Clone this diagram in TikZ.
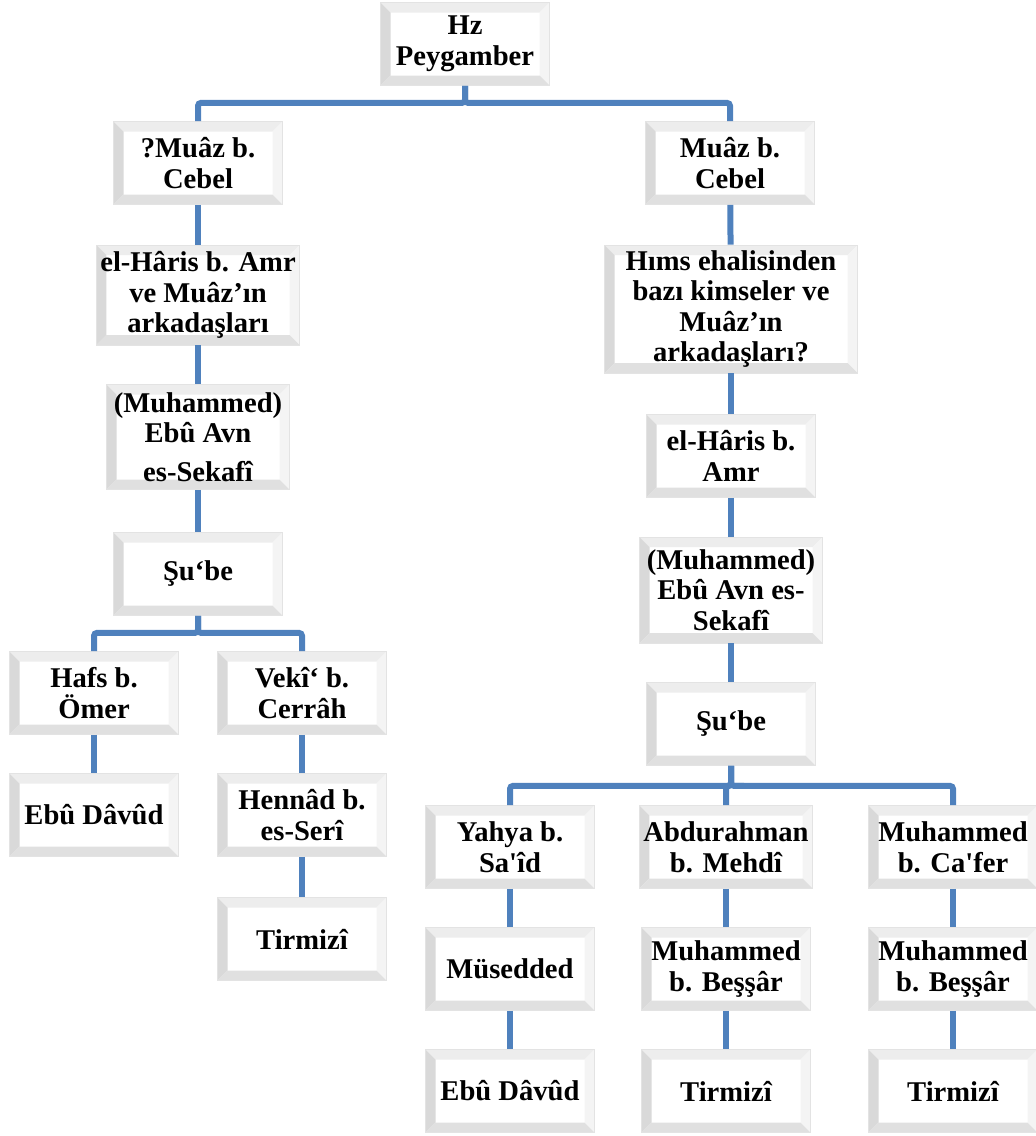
\documentclass[tikz,border=0pt]{standalone}
\usepackage{fontspec}
\setmainfont{Liberation Serif}
\usepackage{tikz}
\definecolor{hatmavi}{RGB}{79,129,189}

\tikzset{
  kutu/.style={draw=gray!22, fill=white, minimum width=84.5pt, minimum height=41.5pt,
    align=center, inner sep=2pt, font=\bfseries\fontsize{14.3}{15.3}\selectfont,
    path picture={
      \path (path picture bounding box.north west) coordinate (pa)
            (path picture bounding box.north east) coordinate (pb)
            (path picture bounding box.south east) coordinate (pc)
            (path picture bounding box.south west) coordinate (pd);
      \path ([shift={(5pt,-5pt)}]pa) coordinate (qa)
            ([shift={(-5pt,-5pt)}]pb) coordinate (qb)
            ([shift={(-5pt,5pt)}]pc) coordinate (qc)
            ([shift={(5pt,5pt)}]pd) coordinate (qd);
      \fill[gray!14] (pa) -- (pb) -- (qb) -- (qa) -- cycle;
      \fill[gray!30] (pa) -- (qa) -- (qd) -- (pd) -- cycle;
      \fill[gray!9] (pb) -- (pc) -- (qc) -- (qb) -- cycle;
      \fill[gray!24] (pd) -- (qd) -- (qc) -- (pc) -- cycle;
    }},
  kol/.style={draw=hatmavi, line width=3pt, rounded corners=1.5pt}
}

\begin{document}
\begin{tikzpicture}[x=0.5pt,y=-0.5pt]
\useasboundingbox (0,0) rectangle (1036,1136);
% ust
\node[kutu] (hz) at (465,44) {Hz\\Peygamber};
% sol kol
\node[kutu] (muazA) at (198,163) {?Muâz b.\\Cebel};
\node[kutu,minimum width=100pt,minimum height=50pt] (harisA) at (198,295) {el-Hâris b. Amr\\ve Muâz’ın\\arkadaşları};
\node[kutu,minimum width=91.5pt,minimum height=52.5pt] (avnA) at (198,437) {(Muhammed)\\Ebû Avn\\[4pt]es-Sekafî};
\node[kutu] (subeA) at (198,574) {Şu‘be};
\node[kutu] (hafs) at (94,693) {Hafs b.\\Ömer};
\node[kutu] (veki) at (302,693) {Vekî‘ b.\\Cerrâh};
\node[kutu] (davudA) at (94,815) {Ebû Dâvûd};
\node[kutu] (hennad) at (302,815) {Hennâd b.\\es-Serî};
\node[kutu] (tirmA) at (302,939) {Tirmizî};
% sag kol
\node[kutu] (muazB) at (730,163) {Muâz b.\\Cebel};
\node[kutu,minimum width=126.5pt,minimum height=64pt] (hims) at (731,309) {Hıms ehalisinden\\bazı kimseler ve\\Muâz’ın\\arkadaşları?};
\node[kutu] (harisB) at (731,456) {el-Hâris b.\\Amr};
\node[kutu,minimum width=91.5pt,minimum height=53pt] (avnB) at (731,590) {(Muhammed)\\Ebû Avn es-\\Sekafî};
\node[kutu] (subeB) at (731,724) {Şu‘be};
\node[kutu] (yahya) at (510,847) {Yahya b.\\Sa\textquotesingle îd};
\node[kutu] (abdur) at (726,847) {Abdurahman\\b. Mehdî};
\node[kutu] (cafer) at (953,847) {Muhammed\\b. Ca\textquotesingle fer};
\node[kutu] (mused) at (510,969) {Müsedded};
\node[kutu] (bessarA) at (726,969) {Muhammed\\b. Beşşâr};
\node[kutu] (bessarB) at (953,969) {Muhammed\\b. Beşşâr};
\node[kutu] (davudB) at (510,1091) {Ebû Dâvûd};
\node[kutu] (tirmB) at (726,1091) {Tirmizî};
\node[kutu] (tirmC) at (953,1091) {Tirmizî};
% baglantilar
\draw[kol] (hz.south) -- ++(0,17) -| (muazA.north);
\draw[kol] (hz.south) -- ++(0,17) -| (muazB.north);
\draw[kol] (muazA) -- (harisA);
\draw[kol] (harisA) -- (avnA);
\draw[kol] (avnA) -- (subeA);
\draw[kol] (subeA.south) -- ++(0,17) -| (hafs.north);
\draw[kol] (subeA.south) -- ++(0,17) -| (veki.north);
\draw[kol] (hafs) -- (davudA);
\draw[kol] (veki) -- (hennad);
\draw[kol] (hennad) -- (tirmA);
\draw[kol] (muazB) -- (hims);
\draw[kol] (hims) -- (harisB);
\draw[kol] (harisB) -- (avnB);
\draw[kol] (avnB) -- (subeB);
\draw[kol] (subeB.south) -- ++(0,20) -| (yahya.north);
\draw[kol] (subeB.south) -- ++(0,20) -| (abdur.north);
\draw[kol] (subeB.south) -- ++(0,20) -| (cafer.north);
\draw[kol] (yahya) -- (mused);
\draw[kol] (mused) -- (davudB);
\draw[kol] (abdur) -- (bessarA);
\draw[kol] (bessarA) -- (tirmB);
\draw[kol] (cafer) -- (bessarB);
\draw[kol] (bessarB) -- (tirmC);
\end{tikzpicture}
\end{document}
